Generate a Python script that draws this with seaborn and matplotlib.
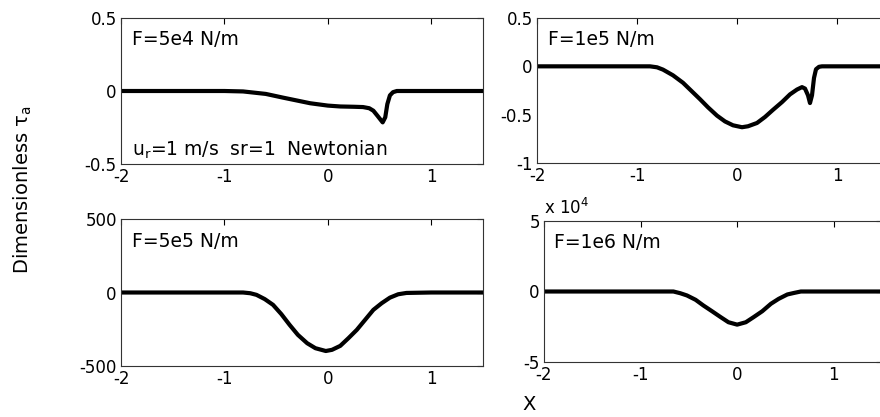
import matplotlib
matplotlib.use('Agg')
import matplotlib.pyplot as plt
import seaborn as sns
import pandas as pd

# curves (x in dimensionless position)
x_5e4 = [-2, -1.0, -0.82, -0.6, -0.43, -0.3, -0.17, 0.0, 0.12, 0.25, 0.34, 0.40, 0.44, 0.48, 0.53, 0.555, 0.575, 0.60, 0.63, 0.667, 1.0, 1.5]
y_5e4 = [0, 0, -0.003, -0.02, -0.046, -0.065, -0.084, -0.1, -0.106, -0.108, -0.11, -0.118, -0.135, -0.17, -0.215, -0.18, -0.09, -0.03, -0.008, 0.0, 0.0, 0.0]

x_1e5 = [-2, -0.87, -0.8, -0.74, -0.64, -0.54, -0.45, -0.37, -0.29, -0.2, -0.12, -0.04, 0.05, 0.11, 0.2, 0.28, 0.36, 0.45, 0.53, 0.6, 0.65, 0.68, 0.71, 0.73, 0.75, 0.77, 0.79, 0.82, 0.85, 1.5]
y_1e5 = [0, 0, -0.01, -0.034, -0.093, -0.17, -0.26, -0.34, -0.424, -0.51, -0.57, -0.61, -0.63, -0.62, -0.586, -0.524, -0.45, -0.37, -0.29, -0.24, -0.215, -0.23, -0.3, -0.38, -0.3, -0.12, -0.03, -0.005, 0, 0]

x_5e5 = [-2, -0.82, -0.75, -0.69, -0.61, -0.53, -0.45, -0.37, -0.29, -0.2, -0.12, -0.02, 0.04, 0.12, 0.2, 0.28, 0.36, 0.44, 0.52, 0.6, 0.68, 0.76, 1.0, 1.5]
y_5e5 = [0, 0, -5, -16, -45, -84, -147, -220, -288, -345, -379, -398, -390, -363, -310, -254, -186, -118, -73, -35, -12, -3, 0, 0]

x_1e6 = [-2, -0.66, -0.59, -0.52, -0.43, -0.35, -0.26, -0.17, -0.09, 0.0, 0.09, 0.17, 0.26, 0.35, 0.43, 0.52, 0.59, 0.66, 1.5]
y_1e6 = [0, 0, -1200, -2800, -5900, -9900, -14000, -18200, -21800, -23500, -21800, -18200, -14000, -8700, -5200, -2100, -1000, 0, 0]

labels = ['F=5e4 N/m', 'F=1e5 N/m', 'F=5e5 N/m', 'F=1e6 N/m']
xs = [x_5e4, x_1e5, x_5e5, x_1e6]
ys = [y_5e4, y_1e5, y_5e5, y_1e6]
ylims = [(-0.5, 0.5), (-1, 0.5), (-500, 500), (-5e4, 5e4)]
yticks = [[-0.5, 0, 0.5], [-1, -0.5, 0, 0.5], [-500, 0, 500], [-5e4, 0, 5e4]]
ytlabels = [['-0.5', '0', '0.5'], ['-1', '-0.5', '0', '0.5'], ['-500', '0', '500'], ['-5', '0', '5']]
xticks = [-2, -1, 0, 1]

sns.set_style('white')
plt.rcParams['font.family'] = ['DejaVu Sans']
plt.rcParams['text.color'] = 'black'
plt.rcParams['mathtext.default'] = 'regular'

fig = plt.figure(figsize=(8.8, 4.17), dpi=100)
W, H = 880, 417
# axes boxes in pixels: left, top, width, height
boxes = [(121, 18, 362, 146), (537, 18, 350, 145), (121, 219, 362, 147), (544, 221, 338, 141)]

for i in range(4):
    l, t, w, h = boxes[i]
    ax = fig.add_axes([l / W, 1 - (t + h) / H, w / W, h / H])
    df = pd.DataFrame({'x': xs[i], 'y': ys[i]})
    sns.lineplot(data=df, x='x', y='y', ax=ax, color='black', lw=3, sort=False)
    ax.set_xlim(-2, 1.5)
    ax.set_ylim(*ylims[i])
    ax.set_xticks(xticks)
    ax.set_xticklabels([str(v) for v in xticks])
    ax.set_yticks(yticks[i])
    ax.set_yticklabels(ytlabels[i])
    ax.set_xlabel('')
    ax.set_ylabel('')
    ax.tick_params(direction='in', length=4, width=0.8, top=True, right=True,
                   labelsize=12, colors='black', pad=3)
    for s in ax.spines.values():
        s.set_visible(True)
        s.set_color('#333333')
        s.set_linewidth(0.8)
    ax.text(0.03, 0.85, labels[i], transform=ax.transAxes, fontsize=13.5, va='center')
    if i == 0:
        ax.text(0.03, 0.1, r'u$_r$=1 m/s  sr=1  Newtonian', transform=ax.transAxes,
                fontsize=13.5, va='center')
    if i == 3:
        ax.text(0.0, 1.05, r'x 10$^4$', transform=ax.transAxes, fontsize=12, va='baseline')

fig.text(23 / W, 1 - 190 / H, r'Dimensionless $\tau_a$', rotation=90, fontsize=14,
         ha='center', va='center')
fig.text(529 / W, 1 - 405 / H, 'X', fontsize=14, ha='center', va='center')

fig.savefig('out.png', dpi=100)
